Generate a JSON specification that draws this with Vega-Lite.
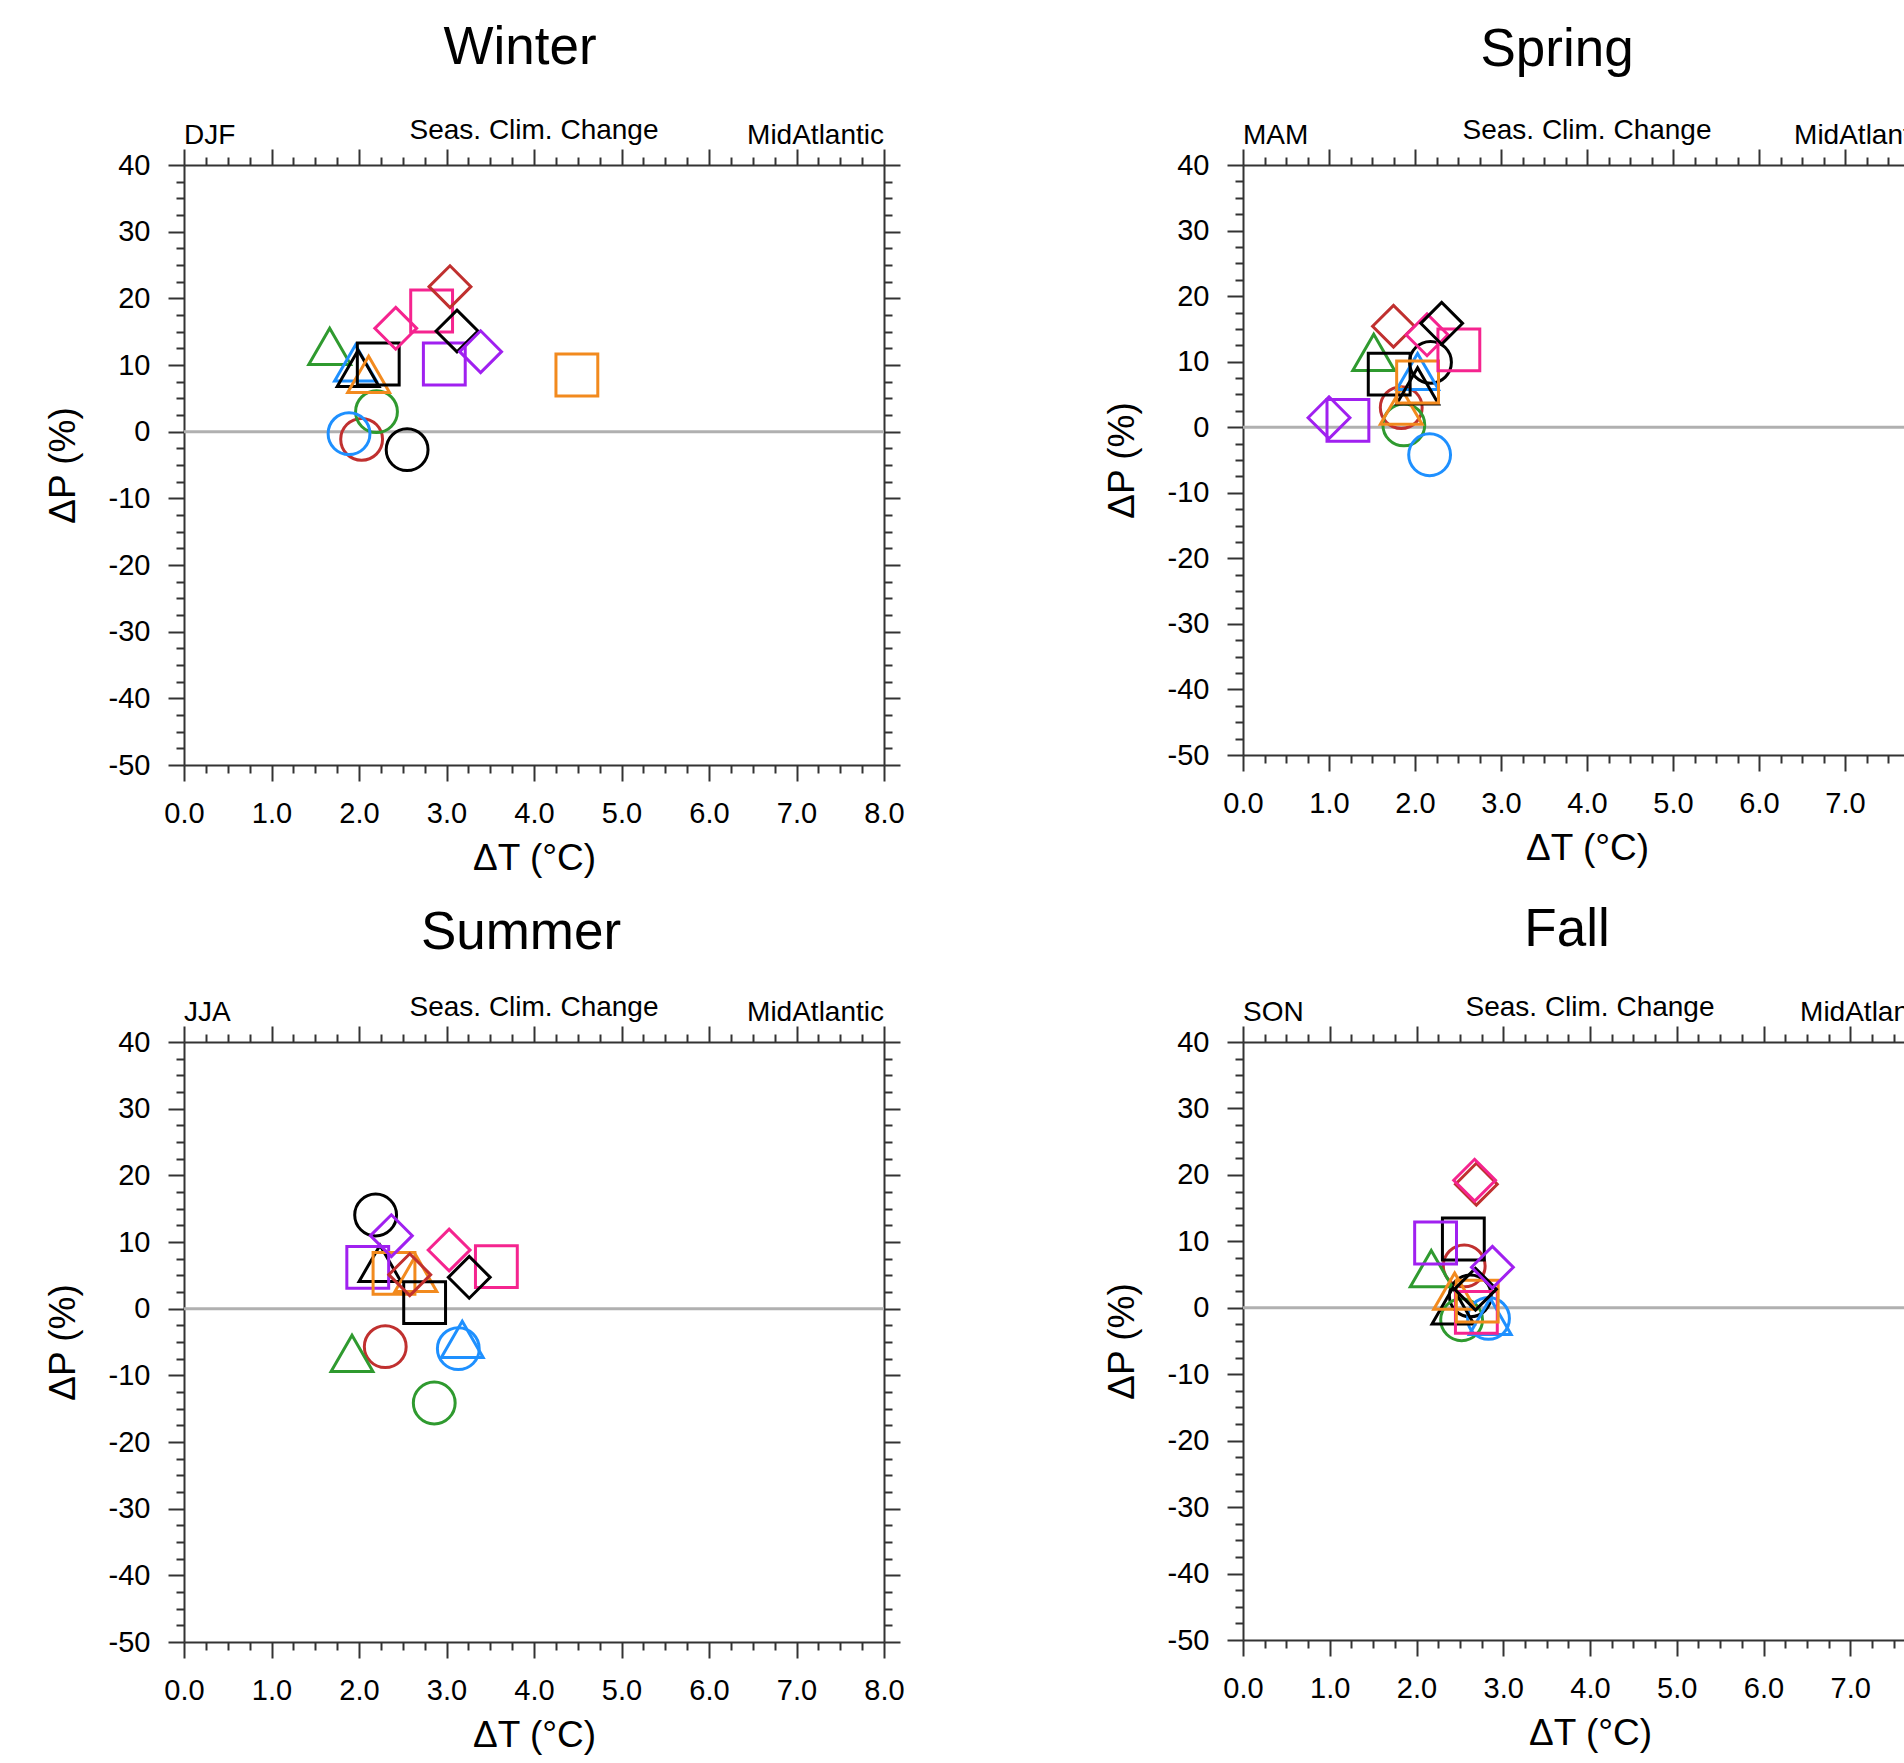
{
  "$schema": "https://vega.github.io/schema/vega-lite/v6.json",
  "background": "white",
  "padding": {"left": 44, "top": 22, "right": 5, "bottom": 5},
  "datasets": {
    "pts": [
      {"season": "Winter", "rcm": "A", "gcm": "G1", "dT": 2.55, "dP": -2.7},
      {"season": "Winter", "rcm": "B", "gcm": "G1", "dT": 2.03, "dP": -1.15},
      {"season": "Winter", "rcm": "C", "gcm": "G1", "dT": 2.2, "dP": 3.0},
      {"season": "Winter", "rcm": "D", "gcm": "G1", "dT": 1.886, "dP": -0.3},
      {"season": "Winter", "rcm": "C", "gcm": "G2", "dT": 1.665, "dP": 12.8},
      {"season": "Winter", "rcm": "D", "gcm": "G2", "dT": 1.96, "dP": 10.3},
      {"season": "Winter", "rcm": "A", "gcm": "G2", "dT": 1.99, "dP": 9.5},
      {"season": "Winter", "rcm": "E", "gcm": "G2", "dT": 2.11, "dP": 8.6},
      {"season": "Winter", "rcm": "A", "gcm": "G3", "dT": 2.22, "dP": 10.15},
      {"season": "Winter", "rcm": "F", "gcm": "G3", "dT": 2.83, "dP": 18.1},
      {"season": "Winter", "rcm": "G", "gcm": "G3", "dT": 2.975, "dP": 10.15},
      {"season": "Winter", "rcm": "E", "gcm": "G3", "dT": 4.49, "dP": 8.5},
      {"season": "Winter", "rcm": "F", "gcm": "G4", "dT": 2.42, "dP": 15.5},
      {"season": "Winter", "rcm": "B", "gcm": "G4", "dT": 3.04, "dP": 21.75},
      {"season": "Winter", "rcm": "A", "gcm": "G4", "dT": 3.12, "dP": 15.1},
      {"season": "Winter", "rcm": "G", "gcm": "G4", "dT": 3.39, "dP": 12.0},

      {"season": "Spring", "rcm": "A", "gcm": "G1", "dT": 2.18, "dP": 9.9},
      {"season": "Spring", "rcm": "B", "gcm": "G1", "dT": 1.84, "dP": 3.0},
      {"season": "Spring", "rcm": "C", "gcm": "G1", "dT": 1.87, "dP": 0.35},
      {"season": "Spring", "rcm": "D", "gcm": "G1", "dT": 2.17, "dP": -4.2},
      {"season": "Spring", "rcm": "C", "gcm": "G2", "dT": 1.52, "dP": 11.4},
      {"season": "Spring", "rcm": "E", "gcm": "G2", "dT": 1.84, "dP": 3.2},
      {"season": "Spring", "rcm": "D", "gcm": "G2", "dT": 2.03, "dP": 8.5},
      {"season": "Spring", "rcm": "A", "gcm": "G2", "dT": 2.03, "dP": 6.3},
      {"season": "Spring", "rcm": "A", "gcm": "G3", "dT": 1.7, "dP": 8.1},
      {"season": "Spring", "rcm": "G", "gcm": "G3", "dT": 1.22, "dP": 1.05},
      {"season": "Spring", "rcm": "E", "gcm": "G3", "dT": 2.03, "dP": 6.9},
      {"season": "Spring", "rcm": "F", "gcm": "G3", "dT": 2.51, "dP": 11.8},
      {"season": "Spring", "rcm": "G", "gcm": "G4", "dT": 1.0, "dP": 1.45},
      {"season": "Spring", "rcm": "B", "gcm": "G4", "dT": 1.75, "dP": 15.4},
      {"season": "Spring", "rcm": "F", "gcm": "G4", "dT": 2.14, "dP": 14.1},
      {"season": "Spring", "rcm": "A", "gcm": "G4", "dT": 2.31, "dP": 15.85},

      {"season": "Summer", "rcm": "A", "gcm": "G1", "dT": 2.19, "dP": 14.05},
      {"season": "Summer", "rcm": "B", "gcm": "G1", "dT": 2.3, "dP": -5.7},
      {"season": "Summer", "rcm": "C", "gcm": "G1", "dT": 2.86, "dP": -14.15},
      {"season": "Summer", "rcm": "D", "gcm": "G1", "dT": 3.135, "dP": -6.0},
      {"season": "Summer", "rcm": "A", "gcm": "G2", "dT": 2.24, "dP": 6.8},
      {"season": "Summer", "rcm": "C", "gcm": "G2", "dT": 1.92, "dP": -6.7},
      {"season": "Summer", "rcm": "D", "gcm": "G2", "dT": 3.18, "dP": -4.6},
      {"season": "Summer", "rcm": "G", "gcm": "G3", "dT": 2.1, "dP": 6.2},
      {"season": "Summer", "rcm": "E", "gcm": "G3", "dT": 2.4, "dP": 5.3},
      {"season": "Summer", "rcm": "E", "gcm": "G2", "dT": 2.65, "dP": 5.3},
      {"season": "Summer", "rcm": "A", "gcm": "G3", "dT": 2.75, "dP": 0.9},
      {"season": "Summer", "rcm": "F", "gcm": "G3", "dT": 3.57, "dP": 6.3},
      {"season": "Summer", "rcm": "G", "gcm": "G4", "dT": 2.37, "dP": 10.95},
      {"season": "Summer", "rcm": "B", "gcm": "G4", "dT": 2.58, "dP": 5.1},
      {"season": "Summer", "rcm": "F", "gcm": "G4", "dT": 3.03, "dP": 8.8},
      {"season": "Summer", "rcm": "A", "gcm": "G4", "dT": 3.26, "dP": 4.7},

      {"season": "Fall", "rcm": "B", "gcm": "G1", "dT": 2.55, "dP": 6.3},
      {"season": "Fall", "rcm": "A", "gcm": "G1", "dT": 2.62, "dP": 1.8},
      {"season": "Fall", "rcm": "C", "gcm": "G1", "dT": 2.52, "dP": -1.8},
      {"season": "Fall", "rcm": "D", "gcm": "G1", "dT": 2.83, "dP": -1.6},
      {"season": "Fall", "rcm": "C", "gcm": "G2", "dT": 2.17, "dP": 5.9},
      {"season": "Fall", "rcm": "A", "gcm": "G2", "dT": 2.42, "dP": 0.3},
      {"season": "Fall", "rcm": "E", "gcm": "G2", "dT": 2.44, "dP": 2.5},
      {"season": "Fall", "rcm": "D", "gcm": "G2", "dT": 2.85, "dP": -1.3},
      {"season": "Fall", "rcm": "A", "gcm": "G3", "dT": 2.54, "dP": 10.35},
      {"season": "Fall", "rcm": "G", "gcm": "G3", "dT": 2.22, "dP": 9.75},
      {"season": "Fall", "rcm": "F", "gcm": "G3", "dT": 2.69, "dP": -0.7},
      {"season": "Fall", "rcm": "E", "gcm": "G3", "dT": 2.7, "dP": 1.0},
      {"season": "Fall", "rcm": "A", "gcm": "G4", "dT": 2.68, "dP": 2.8},
      {"season": "Fall", "rcm": "G", "gcm": "G4", "dT": 2.875, "dP": 6.1},
      {"season": "Fall", "rcm": "B", "gcm": "G4", "dT": 2.69, "dP": 18.6},
      {"season": "Fall", "rcm": "F", "gcm": "G4", "dT": 2.67, "dP": 19.2}
    ]
  },
  "columns": 2,
  "spacing": {"column": 198, "row": 27},
  "concat": [
    {
      "width": 700, "height": 600,
      "title": {"text": "Winter", "anchor": "middle", "frame": "group", "dx": -14, "offset": 0, "baseline": "alphabetic"},
      "layer": [
        {"data": {"values": [{}]}, "mark": {"type": "rule", "color": "#b0b0b0", "strokeWidth": 3},
         "encoding": {"y": {"datum": 0, "type": "quantitative", "scale": {"domain": [-50, 40], "nice": false, "zero": false},
           "axis": {"orient": "right", "title": null, "labels": false, "values": [-50,-47.5,-45,-42.5,-40,-37.5,-35,-32.5,-30,-27.5,-25,-22.5,-20,-17.5,-15,-12.5,-10,-7.5,-5,-2.5,0,2.5,5,7.5,10,12.5,15,17.5,20,22.5,25,27.5,30,32.5,35,37.5,40], "tickSize": {"condition": {"test": "datum.value % 10 === 0", "value": 16}, "value": 8}}}}},
        {"data": {"name": "pts"}, "transform": [{"filter": "datum.season === 'Winter'"}],
         "mark": {"type": "point", "filled": false, "strokeWidth": 3, "size": 1750, "opacity": 1},
         "encoding": {
           "x": {"field": "dT", "type": "quantitative", "scale": {"domain": [0, 8], "nice": false, "zero": false},
             "axis": {"orient": "bottom", "title": "ΔT (°C)", "values": [0,0.25,0.5,0.75,1,1.25,1.5,1.75,2,2.25,2.5,2.75,3,3.25,3.5,3.75,4,4.25,4.5,4.75,5,5.25,5.5,5.75,6,6.25,6.5,6.75,7,7.25,7.5,7.75,8], "labelExpr": "datum.value % 1 === 0 ? format(datum.value, '.1f') : ''", "tickSize": {"condition": {"test": "datum.value % 1 === 0", "value": 16}, "value": 8}, "labelPadding": 18, "titlePadding": 12}},
           "y": {"field": "dP", "type": "quantitative", "scale": {"domain": [-50, 40], "nice": false, "zero": false},
             "axis": {"orient": "left", "title": "ΔP (%)", "values": [-50,-47.5,-45,-42.5,-40,-37.5,-35,-32.5,-30,-27.5,-25,-22.5,-20,-17.5,-15,-12.5,-10,-7.5,-5,-2.5,0,2.5,5,7.5,10,12.5,15,17.5,20,22.5,25,27.5,30,32.5,35,37.5,40], "labelExpr": "datum.value % 10 === 0 ? '' + datum.value : ''", "tickSize": {"condition": {"test": "datum.value % 10 === 0", "value": 16}, "value": 8}, "labelPadding": 18, "titlePadding": 26}},
           "shape": {"field": "gcm", "type": "nominal", "scale": {"domain": ["G1", "G2", "G3", "G4"], "range": ["circle", "triangle-up", "square", "diamond"]}, "legend": null},
           "color": {"field": "rcm", "type": "nominal", "scale": {"domain": ["A", "B", "C", "D", "E", "F", "G"], "range": ["#000000", "#c0302f", "#2f9a2f", "#1e90ff", "#f28a1e", "#f5248f", "#a020f0"]}, "legend": null}
         }},
        {"data": {"values": [{}]}, "mark": {"type": "text", "text": "DJF", "align": "left", "baseline": "alphabetic", "dy": -21},
         "encoding": {"x": {"datum": 0, "type": "quantitative", "axis": {"orient": "top", "title": null, "labels": false, "values": [0,0.25,0.5,0.75,1,1.25,1.5,1.75,2,2.25,2.5,2.75,3,3.25,3.5,3.75,4,4.25,4.5,4.75,5,5.25,5.5,5.75,6,6.25,6.5,6.75,7,7.25,7.5,7.75,8], "tickSize": {"condition": {"test": "datum.value % 1 === 0", "value": 16}, "value": 8}}},
           "y": {"datum": 40, "type": "quantitative", "axis": null}}},
        {"data": {"values": [{}]}, "mark": {"type": "text", "text": "Seas. Clim. Change", "align": "center", "baseline": "alphabetic", "dy": -26},
         "encoding": {"x": {"datum": 4, "type": "quantitative", "axis": null}, "y": {"datum": 40, "type": "quantitative", "axis": null}}},
        {"data": {"values": [{}]}, "mark": {"type": "text", "text": "MidAtlantic", "align": "right", "baseline": "alphabetic", "dy": -21},
         "encoding": {"x": {"datum": 8, "type": "quantitative", "axis": null}, "y": {"datum": 40, "type": "quantitative", "axis": null}}}
      ],
      "resolve": {"axis": {"x": "independent", "y": "independent"}}
    },
    {
      "width": 688, "height": 590,
      "title": {"text": "Spring", "anchor": "middle", "frame": "group", "dx": -30, "offset": -1.5, "baseline": "alphabetic"},
      "layer": [
        {"data": {"values": [{}]}, "mark": {"type": "rule", "color": "#b0b0b0", "strokeWidth": 3},
         "encoding": {"y": {"datum": 0, "type": "quantitative", "scale": {"domain": [-50, 40], "nice": false, "zero": false},
           "axis": {"orient": "right", "title": null, "labels": false, "values": [-50,-47.5,-45,-42.5,-40,-37.5,-35,-32.5,-30,-27.5,-25,-22.5,-20,-17.5,-15,-12.5,-10,-7.5,-5,-2.5,0,2.5,5,7.5,10,12.5,15,17.5,20,22.5,25,27.5,30,32.5,35,37.5,40], "tickSize": {"condition": {"test": "datum.value % 10 === 0", "value": 16}, "value": 8}}}}},
        {"data": {"name": "pts"}, "transform": [{"filter": "datum.season === 'Spring'"}],
         "mark": {"type": "point", "filled": false, "strokeWidth": 3, "size": 1750, "opacity": 1},
         "encoding": {
           "x": {"field": "dT", "type": "quantitative", "scale": {"domain": [0, 8], "nice": false, "zero": false},
             "axis": {"orient": "bottom", "title": "ΔT (°C)", "values": [0,0.25,0.5,0.75,1,1.25,1.5,1.75,2,2.25,2.5,2.75,3,3.25,3.5,3.75,4,4.25,4.5,4.75,5,5.25,5.5,5.75,6,6.25,6.5,6.75,7,7.25,7.5,7.75,8], "labelExpr": "datum.value % 1 === 0 ? format(datum.value, '.1f') : ''", "tickSize": {"condition": {"test": "datum.value % 1 === 0", "value": 16}, "value": 8}, "labelPadding": 18, "titlePadding": 12}},
           "y": {"field": "dP", "type": "quantitative", "scale": {"domain": [-50, 40], "nice": false, "zero": false},
             "axis": {"orient": "left", "title": "ΔP (%)", "values": [-50,-47.5,-45,-42.5,-40,-37.5,-35,-32.5,-30,-27.5,-25,-22.5,-20,-17.5,-15,-12.5,-10,-7.5,-5,-2.5,0,2.5,5,7.5,10,12.5,15,17.5,20,22.5,25,27.5,30,32.5,35,37.5,40], "labelExpr": "datum.value % 10 === 0 ? '' + datum.value : ''", "tickSize": {"condition": {"test": "datum.value % 10 === 0", "value": 16}, "value": 8}, "labelPadding": 18, "titlePadding": 26}},
           "shape": {"field": "gcm", "type": "nominal", "scale": {"domain": ["G1", "G2", "G3", "G4"], "range": ["circle", "triangle-up", "square", "diamond"]}, "legend": null},
           "color": {"field": "rcm", "type": "nominal", "scale": {"domain": ["A", "B", "C", "D", "E", "F", "G"], "range": ["#000000", "#c0302f", "#2f9a2f", "#1e90ff", "#f28a1e", "#f5248f", "#a020f0"]}, "legend": null}
         }},
        {"data": {"values": [{}]}, "mark": {"type": "text", "text": "MAM", "align": "left", "baseline": "alphabetic", "dy": -21},
         "encoding": {"x": {"datum": 0, "type": "quantitative", "axis": {"orient": "top", "title": null, "labels": false, "values": [0,0.25,0.5,0.75,1,1.25,1.5,1.75,2,2.25,2.5,2.75,3,3.25,3.5,3.75,4,4.25,4.5,4.75,5,5.25,5.5,5.75,6,6.25,6.5,6.75,7,7.25,7.5,7.75,8], "tickSize": {"condition": {"test": "datum.value % 1 === 0", "value": 16}, "value": 8}}},
           "y": {"datum": 40, "type": "quantitative", "axis": null}}},
        {"data": {"values": [{}]}, "mark": {"type": "text", "text": "Seas. Clim. Change", "align": "center", "baseline": "alphabetic", "dy": -26},
         "encoding": {"x": {"datum": 4, "type": "quantitative", "axis": null}, "y": {"datum": 40, "type": "quantitative", "axis": null}}},
        {"data": {"values": [{}]}, "mark": {"type": "text", "text": "MidAtlantic", "align": "right", "baseline": "alphabetic", "dy": -21},
         "encoding": {"x": {"datum": 8, "type": "quantitative", "axis": null}, "y": {"datum": 40, "type": "quantitative", "axis": null}}}
      ],
      "resolve": {"axis": {"x": "independent", "y": "independent"}}
    },
    {
      "width": 700, "height": 600,
      "title": {"text": "Summer", "anchor": "middle", "frame": "group", "dx": -13, "offset": -7.5, "baseline": "alphabetic"},
      "layer": [
        {"data": {"values": [{}]}, "mark": {"type": "rule", "color": "#b0b0b0", "strokeWidth": 3},
         "encoding": {"y": {"datum": 0, "type": "quantitative", "scale": {"domain": [-50, 40], "nice": false, "zero": false},
           "axis": {"orient": "right", "title": null, "labels": false, "values": [-50,-47.5,-45,-42.5,-40,-37.5,-35,-32.5,-30,-27.5,-25,-22.5,-20,-17.5,-15,-12.5,-10,-7.5,-5,-2.5,0,2.5,5,7.5,10,12.5,15,17.5,20,22.5,25,27.5,30,32.5,35,37.5,40], "tickSize": {"condition": {"test": "datum.value % 10 === 0", "value": 16}, "value": 8}}}}},
        {"data": {"name": "pts"}, "transform": [{"filter": "datum.season === 'Summer'"}],
         "mark": {"type": "point", "filled": false, "strokeWidth": 3, "size": 1750, "opacity": 1},
         "encoding": {
           "x": {"field": "dT", "type": "quantitative", "scale": {"domain": [0, 8], "nice": false, "zero": false},
             "axis": {"orient": "bottom", "title": "ΔT (°C)", "values": [0,0.25,0.5,0.75,1,1.25,1.5,1.75,2,2.25,2.5,2.75,3,3.25,3.5,3.75,4,4.25,4.5,4.75,5,5.25,5.5,5.75,6,6.25,6.5,6.75,7,7.25,7.5,7.75,8], "labelExpr": "datum.value % 1 === 0 ? format(datum.value, '.1f') : ''", "tickSize": {"condition": {"test": "datum.value % 1 === 0", "value": 16}, "value": 8}, "labelPadding": 18, "titlePadding": 12}},
           "y": {"field": "dP", "type": "quantitative", "scale": {"domain": [-50, 40], "nice": false, "zero": false},
             "axis": {"orient": "left", "title": "ΔP (%)", "values": [-50,-47.5,-45,-42.5,-40,-37.5,-35,-32.5,-30,-27.5,-25,-22.5,-20,-17.5,-15,-12.5,-10,-7.5,-5,-2.5,0,2.5,5,7.5,10,12.5,15,17.5,20,22.5,25,27.5,30,32.5,35,37.5,40], "labelExpr": "datum.value % 10 === 0 ? '' + datum.value : ''", "tickSize": {"condition": {"test": "datum.value % 10 === 0", "value": 16}, "value": 8}, "labelPadding": 18, "titlePadding": 26}},
           "shape": {"field": "gcm", "type": "nominal", "scale": {"domain": ["G1", "G2", "G3", "G4"], "range": ["circle", "triangle-up", "square", "diamond"]}, "legend": null},
           "color": {"field": "rcm", "type": "nominal", "scale": {"domain": ["A", "B", "C", "D", "E", "F", "G"], "range": ["#000000", "#c0302f", "#2f9a2f", "#1e90ff", "#f28a1e", "#f5248f", "#a020f0"]}, "legend": null}
         }},
        {"data": {"values": [{}]}, "mark": {"type": "text", "text": "JJA", "align": "left", "baseline": "alphabetic", "dy": -21},
         "encoding": {"x": {"datum": 0, "type": "quantitative", "axis": {"orient": "top", "title": null, "labels": false, "values": [0,0.25,0.5,0.75,1,1.25,1.5,1.75,2,2.25,2.5,2.75,3,3.25,3.5,3.75,4,4.25,4.5,4.75,5,5.25,5.5,5.75,6,6.25,6.5,6.75,7,7.25,7.5,7.75,8], "tickSize": {"condition": {"test": "datum.value % 1 === 0", "value": 16}, "value": 8}}},
           "y": {"datum": 40, "type": "quantitative", "axis": null}}},
        {"data": {"values": [{}]}, "mark": {"type": "text", "text": "Seas. Clim. Change", "align": "center", "baseline": "alphabetic", "dy": -26},
         "encoding": {"x": {"datum": 4, "type": "quantitative", "axis": null}, "y": {"datum": 40, "type": "quantitative", "axis": null}}},
        {"data": {"values": [{}]}, "mark": {"type": "text", "text": "MidAtlantic", "align": "right", "baseline": "alphabetic", "dy": -21},
         "encoding": {"x": {"datum": 8, "type": "quantitative", "axis": null}, "y": {"datum": 40, "type": "quantitative", "axis": null}}}
      ],
      "resolve": {"axis": {"x": "independent", "y": "independent"}}
    },
    {
      "width": 694, "height": 598,
      "title": {"text": "Fall", "anchor": "middle", "frame": "group", "dx": -23, "offset": -4.5, "baseline": "alphabetic"},
      "layer": [
        {"data": {"values": [{}]}, "mark": {"type": "rule", "color": "#b0b0b0", "strokeWidth": 3},
         "encoding": {"y": {"datum": 0, "type": "quantitative", "scale": {"domain": [-50, 40], "nice": false, "zero": false},
           "axis": {"orient": "right", "title": null, "labels": false, "values": [-50,-47.5,-45,-42.5,-40,-37.5,-35,-32.5,-30,-27.5,-25,-22.5,-20,-17.5,-15,-12.5,-10,-7.5,-5,-2.5,0,2.5,5,7.5,10,12.5,15,17.5,20,22.5,25,27.5,30,32.5,35,37.5,40], "tickSize": {"condition": {"test": "datum.value % 10 === 0", "value": 16}, "value": 8}}}}},
        {"data": {"name": "pts"}, "transform": [{"filter": "datum.season === 'Fall'"}],
         "mark": {"type": "point", "filled": false, "strokeWidth": 3, "size": 1750, "opacity": 1},
         "encoding": {
           "x": {"field": "dT", "type": "quantitative", "scale": {"domain": [0, 8], "nice": false, "zero": false},
             "axis": {"orient": "bottom", "title": "ΔT (°C)", "values": [0,0.25,0.5,0.75,1,1.25,1.5,1.75,2,2.25,2.5,2.75,3,3.25,3.5,3.75,4,4.25,4.5,4.75,5,5.25,5.5,5.75,6,6.25,6.5,6.75,7,7.25,7.5,7.75,8], "labelExpr": "datum.value % 1 === 0 ? format(datum.value, '.1f') : ''", "tickSize": {"condition": {"test": "datum.value % 1 === 0", "value": 16}, "value": 8}, "labelPadding": 18, "titlePadding": 12}},
           "y": {"field": "dP", "type": "quantitative", "scale": {"domain": [-50, 40], "nice": false, "zero": false},
             "axis": {"orient": "left", "title": "ΔP (%)", "values": [-50,-47.5,-45,-42.5,-40,-37.5,-35,-32.5,-30,-27.5,-25,-22.5,-20,-17.5,-15,-12.5,-10,-7.5,-5,-2.5,0,2.5,5,7.5,10,12.5,15,17.5,20,22.5,25,27.5,30,32.5,35,37.5,40], "labelExpr": "datum.value % 10 === 0 ? '' + datum.value : ''", "tickSize": {"condition": {"test": "datum.value % 10 === 0", "value": 16}, "value": 8}, "labelPadding": 18, "titlePadding": 26}},
           "shape": {"field": "gcm", "type": "nominal", "scale": {"domain": ["G1", "G2", "G3", "G4"], "range": ["circle", "triangle-up", "square", "diamond"]}, "legend": null},
           "color": {"field": "rcm", "type": "nominal", "scale": {"domain": ["A", "B", "C", "D", "E", "F", "G"], "range": ["#000000", "#c0302f", "#2f9a2f", "#1e90ff", "#f28a1e", "#f5248f", "#a020f0"]}, "legend": null}
         }},
        {"data": {"values": [{}]}, "mark": {"type": "text", "text": "SON", "align": "left", "baseline": "alphabetic", "dy": -21},
         "encoding": {"x": {"datum": 0, "type": "quantitative", "axis": {"orient": "top", "title": null, "labels": false, "values": [0,0.25,0.5,0.75,1,1.25,1.5,1.75,2,2.25,2.5,2.75,3,3.25,3.5,3.75,4,4.25,4.5,4.75,5,5.25,5.5,5.75,6,6.25,6.5,6.75,7,7.25,7.5,7.75,8], "tickSize": {"condition": {"test": "datum.value % 1 === 0", "value": 16}, "value": 8}}},
           "y": {"datum": 40, "type": "quantitative", "axis": null}}},
        {"data": {"values": [{}]}, "mark": {"type": "text", "text": "Seas. Clim. Change", "align": "center", "baseline": "alphabetic", "dy": -26},
         "encoding": {"x": {"datum": 4, "type": "quantitative", "axis": null}, "y": {"datum": 40, "type": "quantitative", "axis": null}}},
        {"data": {"values": [{}]}, "mark": {"type": "text", "text": "MidAtlantic", "align": "right", "baseline": "alphabetic", "dy": -21},
         "encoding": {"x": {"datum": 8, "type": "quantitative", "axis": null}, "y": {"datum": 40, "type": "quantitative", "axis": null}}}
      ],
      "resolve": {"axis": {"x": "independent", "y": "independent"}}
    }
  ],
  "config": {
    "view": {"stroke": null},
    "font": "Liberation Sans",
    "axis": {"grid": false, "domainColor": "#333333", "domainWidth": 2, "tickColor": "#333333", "tickWidth": 2, "labelFont": "Liberation Sans", "labelFontSize": 29, "labelColor": "#000000", "labelFlush": false, "labelOverlap": false, "titleFont": "Liberation Sans", "titleFontSize": 37, "titleFontWeight": "normal", "titleColor": "#000000"},
    "title": {"font": "Liberation Sans", "fontSize": 53, "fontWeight": "normal", "color": "#000000"},
    "text": {"font": "Liberation Sans", "fontSize": 28, "color": "#000000"}
  }
}
